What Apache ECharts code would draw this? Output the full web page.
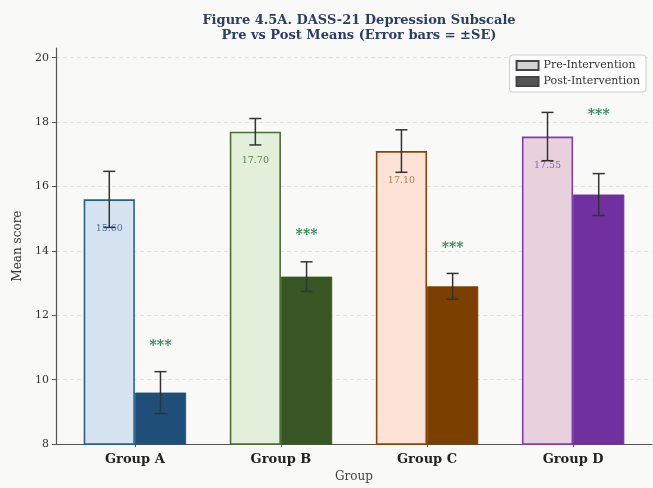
<!DOCTYPE html>
<html>
<head>
<meta charset="utf-8">
<script src="https://cdn.jsdelivr.net/npm/echarts@6/dist/echarts.min.js"></script>
<style>
  html, body { margin: 0; padding: 0; background: #f9f9f7; }
  #chart { width: 653px; height: 488px; }
</style>
</head>
<body>
<div id="chart"></div>
<script>
// DASS-21 depression subscale: group means before and after the intervention
const groups = ['Group A', 'Group B', 'Group C', 'Group D'];
const preMean = [15.60, 17.70, 17.10, 17.55];
const postMean = [9.60, 13.20, 12.90, 15.75];
const preSE = [0.87, 0.41, 0.66, 0.75];
const postSE = [0.65, 0.46, 0.40, 0.65];
const sigMarks = ['***', '***', '***', '***'];
const sigY = [11.05, 14.48, 14.09, 18.20];
const yTicks = [8, 10, 12, 14, 16, 18, 20];

// per-group palette: light fill + edge for pre, solid for post
const preFill = ['#d6e3f0', '#e2efda', '#fde3d6', '#e9d0dd'];
const preEdge = ['#2c5d8f', '#4d6e35', '#86470f', '#7a3fb5'];
const preText = ['#4a74a0', '#5f7f4a', '#b07a50', '#9a5cc8'];
const postFill = ['#1f4e79', '#375623', '#7b3f00', '#7030a0'];

const FONT = 'DejaVu Serif';
const HALF = 25.6; // half bar width in px

const chart = echarts.init(document.getElementById('chart'), null, { renderer: 'canvas' });

function errorBar(side) {
  return function (params, api) {
    const x = api.value(0), m = api.value(1), se = api.value(2);
    const top = api.coord([x, m + se]);
    const bot = api.coord([x, m - se]);
    const px = top[0] + side * HALF;
    const st = { stroke: '#333', lineWidth: 1.5 };
    return {
      type: 'group',
      children: [
        { type: 'line', shape: { x1: px, y1: top[1], x2: px, y2: bot[1] }, style: st },
        { type: 'line', shape: { x1: px - 6, y1: top[1], x2: px + 6, y2: top[1] }, style: st },
        { type: 'line', shape: { x1: px - 6, y1: bot[1], x2: px + 6, y2: bot[1] }, style: st }
      ]
    };
  };
}

const option = {
  backgroundColor: '#f9f9f7',
  animation: false,
  title: {
    text: 'Figure 4.5A. DASS-21 Depression Subscale\nPre vs Post Means (Error bars = ±SE)',
    left: 354,
    top: 8,
    textAlign: 'center',
    textStyle: { fontFamily: FONT, fontSize: 13, fontWeight: 'bold', color: '#2b3d66', lineHeight: 15 }
  },
  legend: {
    data: ['Pre-Intervention', 'Post-Intervention'],
    orient: 'vertical',
    right: 7,
    top: 55,
    icon: 'rect',
    itemWidth: 22,
    itemHeight: 9,
    itemGap: 5,
    padding: [5, 6, 5, 6],
    borderColor: '#cccccc',
    borderWidth: 1,
    borderRadius: 3,
    backgroundColor: 'rgba(255,255,255,0.85)',
    textStyle: { fontFamily: FONT, fontSize: 11, color: '#333' }
  },
  grid: { left: 56, right: 1, top: 48, bottom: 40 },
  xAxis: {
    type: 'value',
    min: -0.54,
    max: 3.54,
    name: 'Group',
    nameLocation: 'middle',
    nameGap: 26,
    nameTextStyle: { fontFamily: FONT, fontSize: 12, color: '#444' },
    axisLine: { onZero: false, lineStyle: { color: '#555', width: 1.2 } },
    axisTick: { show: true, customValues: [0, 1, 2, 3], length: 3, lineStyle: { color: '#555' } },
    axisLabel: {
      customValues: [0, 1, 2, 3],
      formatter: v => groups[Math.round(v)] || '',
      fontFamily: FONT, fontSize: 13, fontWeight: 'bold', color: '#222', margin: 9
    },
    splitLine: { show: false }
  },
  yAxis: {
    type: 'value',
    min: 8,
    max: 20.3,
    interval: 2,
    name: 'Mean score',
    nameLocation: 'middle',
    nameGap: 29,
    nameRotate: 90,
    nameTextStyle: { fontFamily: FONT, fontSize: 12, color: '#333' },
    axisLine: { show: true, onZero: false, lineStyle: { color: '#555', width: 1.2 } },
    axisTick: { show: true, customValues: yTicks, length: 4, lineStyle: { color: '#555' } },
    axisLabel: { customValues: yTicks, fontFamily: FONT, fontSize: 11, color: '#333', margin: 7 },
    splitLine: { show: true, lineStyle: { color: '#dcdcdc', type: [4, 3], width: 0.8 } }
  },
  series: [
    {
      name: 'Pre-Intervention',
      type: 'bar',
      barWidth: 2 * HALF,
      barGap: 0,
      itemStyle: { color: '#d3d3d3', borderColor: '#444', borderWidth: 1 },
      data: preMean.map((v, i) => ({
        value: [i, v],
        itemStyle: { color: preFill[i], borderColor: preEdge[i], borderWidth: 1.6 },
        label: { color: preText[i] }
      })),
      label: {
        show: true,
        position: 'insideTop',
        distance: 24,
        formatter: p => p.value[1].toFixed(2),
        fontFamily: FONT,
        fontSize: 9.5
      },
      z: 2
    },
    {
      name: 'Post-Intervention',
      type: 'bar',
      barWidth: 2 * HALF,
      barGap: 0,
      itemStyle: { color: '#555555', borderColor: '#444', borderWidth: 1 },
      data: postMean.map((v, i) => ({
        value: [i, v],
        itemStyle: { color: postFill[i], borderColor: postFill[i], borderWidth: 0.8 }
      })),
      z: 2
    },
    {
      name: 'preErr',
      type: 'custom',
      renderItem: errorBar(-1),
      data: preMean.map((m, i) => [i, m, preSE[i]]),
      encode: { x: 0, y: 1 },
      z: 5,
      silent: true
    },
    {
      name: 'postErr',
      type: 'custom',
      renderItem: errorBar(1),
      data: postMean.map((m, i) => [i, m, postSE[i]]),
      encode: { x: 0, y: 1 },
      z: 5,
      silent: true
    },
    {
      name: 'sig',
      type: 'custom',
      renderItem: function (params, api) {
        const c = api.coord([api.value(0), api.value(1)]);
        return {
          type: 'text',
          x: c[0] + HALF,
          y: c[1],
          style: {
            text: sigMarks[params.dataIndex],
            fill: '#2e8b57',
            font: 'bold 14px "DejaVu Serif"',
            align: 'center',
            verticalAlign: 'middle'
          }
        };
      },
      data: sigY.map((y, i) => [i, y]),
      encode: { x: 0, y: 1 },
      z: 6,
      silent: true
    }
  ]
};

chart.setOption(option);
</script>
</body>
</html>
